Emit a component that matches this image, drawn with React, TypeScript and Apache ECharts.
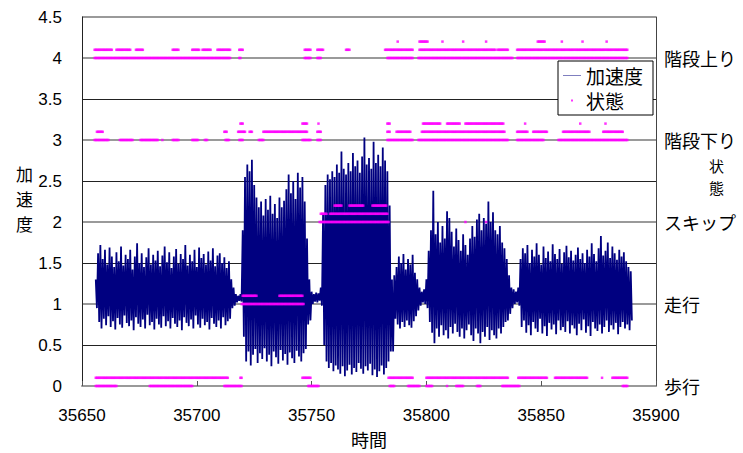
import React, { useEffect, useRef } from "react";
import * as echarts from "echarts";

// ---------- Axis ticks / labels ----------
const xMin = 35650;
const xMax = 35900;
const stateLabels: Record<number, string> = { 0: "歩行", 1: "走行", 2: "スキップ", 3: "階段下り", 4: "階段上り" };
const yTitleChars = ["加", "速", "度"];
const stateTitleChars = ["状", "態"];

// ---------- Acceleration envelope per time unit (peak at t, trough at t+0.5) ----------
const walkStart = 35656;
const walkHi = [1.30, 1.62, 1.72, 1.55, 1.66, 1.48, 1.69, 1.58, 1.45, 1.63, 1.52, 1.70, 1.47, 1.60, 1.55, 1.66, 1.42, 1.58, 1.74, 1.50, 1.62, 1.45, 1.57, 1.68, 1.48, 1.60, 1.53, 1.65, 1.46, 1.59, 1.70, 1.51, 1.63, 1.44, 1.58, 1.67, 1.49, 1.61, 1.55, 1.72, 1.47, 1.60, 1.52, 1.66, 1.45, 1.69, 1.56, 1.61, 1.48, 1.64, 1.53, 1.68, 1.46, 1.59, 1.62, 1.50, 1.57, 1.44, 1.52, 1.30];
const walkLo = [0.95, 0.78, 0.70, 0.82, 0.74, 0.85, 0.72, 0.79, 0.69, 0.83, 0.75, 0.71, 0.86, 0.77, 0.73, 0.80, 0.68, 0.84, 0.76, 0.72, 0.81, 0.70, 0.87, 0.74, 0.78, 0.69, 0.82, 0.75, 0.71, 0.85, 0.73, 0.79, 0.70, 0.83, 0.76, 0.72, 0.80, 0.68, 0.84, 0.77, 0.73, 0.81, 0.70, 0.86, 0.75, 0.71, 0.82, 0.74, 0.78, 0.69, 0.83, 0.76, 0.72, 0.80, 0.70, 0.84, 0.74, 0.79, 0.82, 0.95];

const rest1Start = 35716;
const rest1Hi = [1.20, 1.12, 1.10, 1.12];
const rest1Lo = [0.98, 1.02, 1.04, 1.03];

const runStart = 35720;
const runHi = [1.90, 2.55, 2.70, 2.62, 2.76, 2.45, 2.30, 2.18, 2.25, 2.08, 2.28, 2.15, 2.32, 2.10, 2.22, 2.05, 2.30, 2.18, 2.26, 2.40, 2.58, 2.35, 2.50, 2.28, 2.60, 2.42, 2.55, 2.25, 1.80];
const runLo = [0.60, 0.30, 0.42, 0.25, 0.38, 0.45, 0.28, 0.40, 0.33, 0.46, 0.30, 0.38, 0.24, 0.42, 0.35, 0.27, 0.44, 0.31, 0.39, 0.26, 0.41, 0.34, 0.28, 0.43, 0.36, 0.30, 0.40, 0.45, 0.75];

const rest2Start = 35749;
const rest2Hi = [1.30, 1.15, 1.12, 1.14, 1.13, 1.20];
const rest2Lo = [0.80, 1.00, 1.03, 1.02, 1.04, 0.98];

const skipStart = 35755;
const skipHi = [2.10, 2.45, 2.58, 2.52, 2.62, 2.55, 2.70, 2.60, 2.86, 2.65, 2.58, 2.72, 2.62, 2.84, 2.68, 2.75, 2.60, 2.80, 3.03, 2.70, 2.78, 2.65, 2.98, 2.72, 2.82, 2.68, 2.91, 2.75, 2.62, 2.20];
const skipLo = [0.50, 0.30, 0.22, 0.28, 0.18, 0.25, 0.20, 0.15, 0.24, 0.12, 0.19, 0.26, 0.14, 0.22, 0.17, 0.28, 0.21, 0.15, 0.24, 0.19, 0.27, 0.13, 0.20, 0.11, 0.18, 0.25, 0.14, 0.22, 0.30, 0.42];

const stairAStart = 35785;
const stairAHi = [1.30, 1.35, 1.45, 1.58, 1.50, 1.61, 1.42, 1.55, 1.48, 1.60, 1.38, 1.30, 1.20, 1.15, 1.18];
const stairALo = [0.42, 0.82, 0.75, 0.70, 0.78, 0.72, 0.80, 0.74, 0.71, 0.79, 0.85, 0.92, 0.98, 1.02, 1.00];

const stairBStart = 35800;
const stairBHi = [1.30, 1.65, 1.90, 2.38, 1.85, 2.00, 1.75, 1.95, 1.80, 2.13, 2.05, 1.88, 1.70, 1.92, 1.78, 1.65, 1.85, 1.72, 1.60, 1.80, 1.95, 1.82, 2.03, 2.10, 1.90, 2.05, 1.98, 2.25, 2.00, 2.12, 1.90, 1.85, 1.95, 1.75, 1.68, 1.55, 1.35, 1.20];
const stairBLo = [0.95, 0.78, 0.65, 0.52, 0.70, 0.60, 0.74, 0.62, 0.68, 0.58, 0.72, 0.64, 0.76, 0.66, 0.60, 0.70, 0.58, 0.68, 0.75, 0.62, 0.55, 0.70, 0.64, 0.52, 0.66, 0.60, 0.72, 0.56, 0.68, 0.62, 0.58, 0.70, 0.64, 0.72, 0.78, 0.80, 0.88, 0.95];

const rest3Start = 35838;
const rest3Hi = [1.18, 1.15, 1.20];
const rest3Lo = [1.00, 1.02, 0.98];

const stairCStart = 35841;
const stairCHi = [1.55, 1.68, 1.62, 1.72, 1.50, 1.66, 1.58, 1.74, 1.60, 1.48, 1.70, 1.56, 1.64, 1.52, 1.73, 1.61, 1.55, 1.67, 1.49, 1.63, 1.71, 1.57, 1.65, 1.53, 1.60, 1.69, 1.55, 1.62, 1.50, 1.66, 1.58, 1.74, 1.61, 1.52, 1.68, 1.83, 1.59, 1.65, 1.75, 1.56, 1.70, 1.62, 1.54, 1.66, 1.58, 1.63, 1.52, 1.45, 1.40];
const stairCLo = [0.72, 0.80, 0.65, 0.74, 0.62, 0.78, 0.70, 0.66, 0.82, 0.64, 0.73, 0.61, 0.77, 0.69, 0.75, 0.63, 0.80, 0.68, 0.72, 0.66, 0.79, 0.64, 0.74, 0.70, 0.62, 0.76, 0.68, 0.81, 0.65, 0.73, 0.61, 0.78, 0.70, 0.67, 0.75, 0.64, 0.72, 0.80, 0.66, 0.74, 0.69, 0.77, 0.63, 0.72, 0.78, 0.70, 0.75, 0.68, 0.80];

// ---------- State samples: runs [from, to] of samples (every 0.5) at each level ----------
const stateStep = 0.5;
const state0 = [[35656, 35665], [35679.5, 35698], [35712, 35719.5], [35748.5, 35753], [35784, 35786], [35792, 35797], [35800, 35802.5], [35809, 35809], [35813, 35816], [35822, 35823.5], [35833, 35840.5], [35885.5, 35887.5]];
const state01 = [[35656, 35713.5], [35719, 35719.5], [35746, 35749.5], [35783.5, 35794], [35800, 35835.5], [35840, 35852.5], [35856, 35870], [35876.5, 35876.5], [35881, 35887.5]];
const state1 = [[35719.5, 35746.5]];
const state11 = [[35720, 35726], [35736, 35746]];
const state2 = [[35753.5, 35783.5], [35817, 35817], [35826, 35826]];
const state21 = [[35754, 35756.5], [35758, 35783]];
const state22 = [[35760, 35763], [35766.5, 35772.5], [35776.5, 35782.5]];
const state3 = [[35655.5, 35661.5], [35666.5, 35672], [35675.5, 35683], [35685, 35685], [35689.5, 35692], [35698, 35700.5], [35703.5, 35704.5], [35712.5, 35714], [35718.5, 35720], [35727, 35729], [35746, 35749.5], [35752.5, 35754], [35783, 35794], [35796.5, 35835.5], [35839.5, 35851], [35857.5, 35887.5]];
const state31 = [[35656.5, 35659], [35712, 35713], [35718, 35721], [35723, 35724], [35729, 35748], [35752.5, 35754], [35783, 35784], [35787, 35793], [35798, 35834], [35839.5, 35844], [35846.5, 35852.5], [35859.5, 35871], [35877, 35885.5]];
const state32 = [[35719, 35720], [35746, 35748], [35753, 35753], [35783, 35784], [35798.5, 35806], [35809, 35814.5], [35817, 35833.5], [35843, 35843], [35867, 35867], [35878, 35878]];
const state4 = [[35655.5, 35714.5], [35718.5, 35719], [35747, 35749.5], [35752.5, 35754], [35783, 35794], [35796.5, 35837.5], [35839.5, 35887.5]];
const state41 = [[35655.5, 35663], [35665, 35671], [35673.5, 35676.5], [35689.5, 35692], [35698, 35701], [35702.5, 35706], [35709, 35714.5], [35718.5, 35720], [35747, 35749.5], [35752.5, 35755], [35765, 35766.5], [35782, 35794], [35797, 35830], [35831, 35835.5], [35839.5, 35887.5]];
const state42 = [[35787.5, 35787.5], [35797, 35800.5], [35807, 35807], [35816, 35816], [35826, 35826], [35848.5, 35851.5], [35859, 35859], [35868, 35868], [35878.5, 35878.5]];

const stateLevels: [number, number[][]][] = [
  [0, state0], [0.1, state01], [1, state1], [1.1, state11], [2, state2], [2.1, state21], [2.2, state22],
  [3, state3], [3.1, state31], [3.2, state32], [4, state4], [4.1, state41], [4.2, state42],
];

const accSegments: [number, number[], number[]][] = [
  [walkStart, walkHi, walkLo], [rest1Start, rest1Hi, rest1Lo], [runStart, runHi, runLo],
  [rest2Start, rest2Hi, rest2Lo], [skipStart, skipHi, skipLo], [stairAStart, stairAHi, stairALo],
  [stairBStart, stairBHi, stairBLo], [rest3Start, rest3Hi, rest3Lo], [stairCStart, stairCHi, stairCLo],
];

const JP = '"Noto Sans CJK JP", "Noto Sans", sans-serif';
const NUM = '"Liberation Sans", Arial, sans-serif';

export default function App() {
  const ref = useRef<HTMLDivElement>(null);
  useEffect(() => {
    if (!ref.current) return;
    const chart = echarts.init(ref.current, null, { renderer: "svg" });

    const accData: number[][] = [];
    accSegments.forEach(([start, hi, lo]) => {
      hi.forEach((h, i) => {
        accData.push([start + i, h]);
        accData.push([start + i + 0.5, lo[i]]);
      });
    });

    const stateData: number[][] = [];
    stateLevels.forEach(([level, runs]) => {
      runs.forEach(([a, b]) => {
        for (let t = a; t <= b + 1e-9; t += stateStep) stateData.push([t, level]);
      });
    });

    const graphics: any[] = [];
    yTitleChars.forEach((c, i) => {
      graphics.push({
        type: "text",
        left: 16,
        top: 165 + i * 24.8,
        style: { text: c, fontFamily: JP, fontSize: 17, fill: "#000" },
      });
    });
    stateTitleChars.forEach((c, i) => {
      graphics.push({
        type: "text",
        left: 709,
        top: 158 + i * 21.9,
        style: { text: c, fontFamily: JP, fontSize: 15, fill: "#000" },
      });
    });

    chart.setOption({
      animation: false,
      backgroundColor: "#fff",
      grid: { left: 82, right: 87, top: 17, bottom: 65, containLabel: false },
      xAxis: {
        type: "value",
        min: xMin,
        max: xMax,
        interval: 50,
        name: "時間",
        nameLocation: "middle",
        nameGap: 44,
        nameTextStyle: { fontFamily: JP, fontSize: 18, color: "#000" },
        axisLine: { show: true, lineStyle: { color: "#999", width: 2 } },
        axisTick: { show: true, inside: true, length: 5, lineStyle: { color: "#555" } },
        axisLabel: { fontFamily: NUM, fontSize: 17, color: "#000", margin: 21, formatter: (v: number) => String(v) },
        splitLine: { show: false },
      },
      yAxis: [
        {
          type: "value",
          min: 0,
          max: 4.5,
          interval: 0.5,
          axisLine: { show: true, lineStyle: { color: "#222", width: 1 } },
          axisTick: { show: false },
          axisLabel: {
            fontFamily: NUM,
            fontSize: 17,
            color: "#000",
            margin: 20,
            formatter: (v: number) => String(v),
          },
          splitLine: {
            show: true,
            lineStyle: {
              color: ["#999", "#222", "#999", "#222", "#999", "#222", "#999", "#222", "#999", "#999"],
              width: 1,
            },
          },
        },
        {
          type: "value",
          min: 0,
          max: 4.5,
          interval: 1,
          position: "right",
          axisLine: { show: true, lineStyle: { color: "#444", width: 1 } },
          axisTick: { show: false },
          axisLabel: {
            fontFamily: JP,
            fontSize: 18,
            color: "#000",
            margin: 8,
            formatter: (v: number) => stateLabels[v] ?? "",
          },
          splitLine: { show: true, lineStyle: { color: "#9a9a9a", width: 2 } },
        },
      ],
      legend: {
        orient: "vertical",
        left: 558,
        top: 61,
        padding: [5, 10, 5, 5],
        itemGap: 6,
        itemWidth: 18,
        itemHeight: 10,
        itemTextGap: 7,
        borderColor: "#000",
        borderWidth: 1,
        backgroundColor: "#fff",
        textStyle: { fontFamily: JP, fontSize: 19, color: "#000" },
        data: [
          { name: "加速度", icon: "path://M0,4.5h18v1h-18z", itemStyle: { color: "#7f7fbf" } },
          { name: "状態", icon: "path://M0,0h0.05v0.05h-0.05zM17.95,9.95h0.05v0.05h-0.05zM8,4h2v2h-2z" },
        ],
      },
      graphic: graphics,
      series: [
        {
          name: "加速度",
          type: "line",
          yAxisIndex: 0,
          data: accData,
          symbol: "none",
          showSymbol: false,
          lineStyle: { color: "#000080", width: 1.8 },
          itemStyle: { color: "#000080" },
          z: 2,
        },
        {
          name: "状態",
          type: "scatter",
          yAxisIndex: 0,
          data: stateData,
          symbol: "rect",
          symbolSize: 2.5,
          itemStyle: { color: "#ff00ff" },
          z: 3,
        },
      ],
    });
    return () => chart.dispose();
  }, []);
  return <div ref={ref} style={{ width: 743, height: 453, position: "absolute", left: 0, top: 0 }} />;
}
